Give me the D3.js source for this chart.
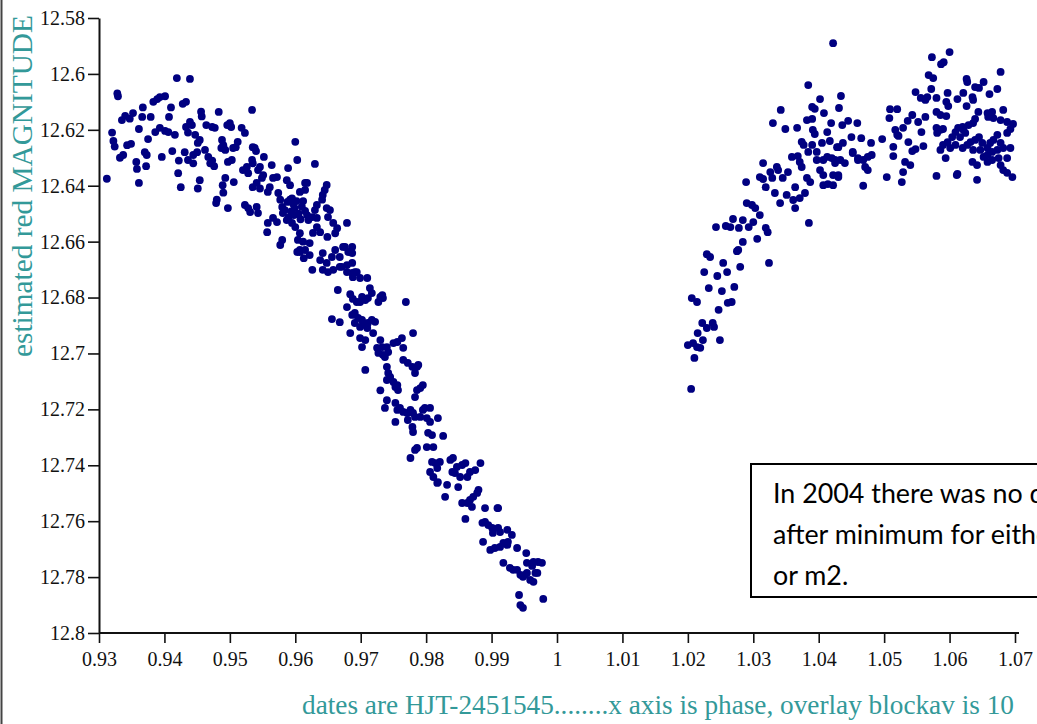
<!DOCTYPE html>
<html><head><meta charset="utf-8">
<script src="https://cdn.jsdelivr.net/npm/d3@7"></script>
<style>body{margin:0;background:#fff;overflow:hidden} svg{display:block}</style>
</head><body><svg id="c" width="1037" height="724"></svg>
<script>
const xTicks = [0.93,0.94,0.95,0.96,0.97,0.98,0.99,1.00,1.01,1.02,1.03,1.04,1.05,1.06,1.07];
const yTicks = [12.58,12.60,12.62,12.64,12.66,12.68,12.70,12.72,12.74,12.76,12.78,12.80];
const xTitle = "dates are HJT-2451545........x axis is phase, overlay blockav is 10";
const yTitle = "estimated red MAGNITUDE";
const noteLines = ["In 2004 there was no data", "after minimum for either m1", "or m2."];

// [phase, magnitude] before minimum
const preMinimum = [
[0.9312,12.6375],[0.9328,12.607],[0.9329,12.608],[0.9320,12.621],[0.9322,12.624],[0.9324,12.626],[0.9335,12.6165],[0.9340,12.615],[0.9347,12.616],[0.9352,12.614],[0.9332,12.630],[0.9337,12.629],[0.9343,12.6255],[0.9349,12.625],[0.9357,12.6315],[0.9358,12.634],[0.9361,12.639],[0.9361,12.6197],[0.9366,12.6154],[0.9367,12.612],[0.9370,12.628],[0.9373,12.629],[0.9372,12.633],[0.9375,12.6233],[0.9379,12.6154],[0.9383,12.610],[0.9389,12.609],[0.9393,12.6083],[0.9401,12.608],[0.9386,12.6208],[0.9393,12.6193],[0.9401,12.6204],[0.9406,12.6208],[0.9416,12.6218],[0.9396,12.6297],[0.9407,12.6154],[0.9410,12.612],[0.9412,12.6276],[0.9419,12.6015],[0.9421,12.6355],[0.9425,12.6405],[0.9422,12.631],[0.9428,12.6107],[0.9433,12.610],[0.9433,12.619],[0.9436,12.621],[0.9439,12.6172],[0.9442,12.6183],[0.9439,12.6018],[0.9431,12.628],[0.9436,12.6308],[0.9444,12.632],[0.9444,12.629],[0.9450,12.628],[0.9447,12.6218],[0.9451,12.6247],[0.9454,12.6236],[0.9454,12.638],[0.9451,12.641],[0.9456,12.6135],[0.9457,12.6152],[0.9462,12.6272],[0.9464,12.6183],[0.9473,12.619],[0.9477,12.6193],[0.9467,12.6297],[0.9470,12.632],[0.9473,12.631],[0.9476,12.633],[0.9480,12.645],[0.9479,12.6462],[0.9483,12.6136],[0.9488,12.6236],[0.9490,12.6255],[0.9487,12.6265],[0.9493,12.6272],[0.9489,12.6398],[0.9490,12.6425],[0.9493,12.6372],[0.9496,12.6183],[0.9500,12.6176],[0.9502,12.619],[0.9497,12.6315],[0.9503,12.6308],[0.9497,12.648],[0.9505,12.6265],[0.9509,12.6262],[0.9512,12.6243],[0.9506,12.6387],[0.9518,12.6193],[0.9523,12.6211],[0.9520,12.6344],[0.9526,12.6333],[0.9528,12.6355],[0.9523,12.6469],[0.9528,12.648],[0.9531,12.6494],[0.9534,12.6129],[0.9535,12.6262],[0.9538,12.6265],[0.9540,12.6276],[0.9534,12.6308],[0.9535,12.632],[0.9543,12.6344],[0.9546,12.6333],[0.9535,12.6405],[0.9541,12.639],[0.9546,12.641],[0.9543,12.6498],[0.9541,12.6476],[0.9549,12.6372],[0.9551,12.6362],[0.9552,12.6297],[0.9557,12.6566],[0.9558,12.6533],[0.9566,12.6515],[0.9572,12.653],[0.9558,12.6422],[0.9561,12.6405],[0.9564,12.6326],[0.9566,12.6372],[0.9572,12.6369],[0.9577,12.6612],[0.9580,12.6594],[0.9574,12.6426],[0.9577,12.645],[0.9580,12.6476],[0.9581,12.6498],[0.9584,12.6487],[0.9587,12.6523],[0.9590,12.6512],[0.9595,12.6533],[0.9600,12.6548],[0.9587,12.638],[0.9592,12.6398],[0.9600,12.6243],[0.9603,12.6308],[0.9589,12.6337],[0.9607,12.657],[0.9612,12.660],[0.9607,12.6637],[0.9615,12.663],[0.9607,12.6422],[0.9615,12.6415],[0.9618,12.639],
[0.9592,12.645],[0.9597,12.6465],[0.9595,12.6445],[0.9599,12.648],[0.9602,12.6455],[0.9605,12.650],[0.9598,12.6505],[0.9610,12.6475],[0.9612,12.6455],[0.9588,12.6458],[0.9594,12.6492],[0.9608,12.652],[0.9615,12.649],[0.9618,12.6505],
[0.9630,12.6322],[0.9648,12.6397],[0.9645,12.6415],[0.9642,12.6433],[0.9641,12.645],[0.9633,12.6469],[0.9630,12.6487],[0.9626,12.6512],[0.9620,12.6523],[0.9633,12.6515],[0.9648,12.648],[0.9653,12.6487],[0.9650,12.6512],[0.9633,12.6548],[0.9638,12.6566],[0.9658,12.6533],[0.9664,12.6552],[0.9661,12.657],[0.9679,12.6533],[0.9676,12.6619],[0.9687,12.6619],[0.9681,12.6637],[0.9661,12.663],[0.9656,12.6655],[0.9668,12.6655],[0.9642,12.6641],[0.9638,12.6666],[0.9648,12.6676],[0.9642,12.6701],[0.9650,12.6709],[0.9658,12.6701],[0.9626,12.6701],[0.9668,12.669],[0.9679,12.6684],[0.9687,12.6676],[0.9691,12.6709],[0.9688,12.6727],[0.9604,12.6594],[0.9603,12.6637],[0.9607,12.663],[0.9613,12.6659],[0.9622,12.6605],[0.9622,12.6648],[0.9615,12.639],[0.9649,12.6583],[0.9627,12.6569],
[0.9673,12.6619],[0.9687,12.6641],[0.9671,12.669],[0.9679,12.6709],[0.9687,12.6712],[0.9694,12.6709],[0.9699,12.673],[0.9710,12.673],[0.9665,12.6773],[0.9684,12.6788],[0.9688,12.6805],[0.9694,12.6816],[0.9714,12.6766],[0.9717,12.6784],[0.9711,12.6802],[0.9707,12.6809],[0.9702,12.6798],[0.9699,12.6816],[0.9730,12.6798],[0.9727,12.6816],[0.9733,12.6791],[0.9734,12.6802],[0.9679,12.6834],[0.9769,12.6816],[0.9656,12.6877],[0.9668,12.6888],
[0.9687,12.6862],[0.9691,12.6855],[0.9696,12.6873],[0.9691,12.6891],[0.9702,12.688],[0.9704,12.6898],[0.9711,12.6891],[0.9717,12.688],[0.9722,12.6887],[0.9710,12.6909],[0.9699,12.6905],
[0.9684,12.6927],[0.9699,12.6945],[0.9707,12.6952],[0.9702,12.6977],[0.9719,12.6927],
[0.9730,12.6952],[0.9733,12.6977],[0.9725,12.698],[0.9727,12.6998],[0.9734,12.7005],[0.9740,12.6977],[0.9742,12.6995],[0.9737,12.7013],
[0.9750,12.6963],[0.9756,12.6959],[0.9763,12.6945],[0.9765,12.698],[0.9780,12.6927],[0.9707,12.7059],
[0.9740,12.7048],[0.9742,12.707],[0.9740,12.7095],[0.9745,12.7084],[0.9750,12.7102],[0.9756,12.7113],[0.9757,12.7131],[0.9753,12.712],
[0.9765,12.7023],[0.9772,12.7034],[0.9779,12.7048],[0.9786,12.7048],[0.9783,12.707],[0.9788,12.7041],
[0.9795,12.7113],[0.9791,12.7124],[0.9786,12.7131],[0.9783,12.7156],[0.9730,12.7132],[0.9740,12.7167],[0.9737,12.7195],
[0.9753,12.7177],[0.9756,12.7202],[0.9760,12.7195],[0.9765,12.7209],[0.9771,12.7213],[0.9776,12.7202],[0.9780,12.7213],[0.9783,12.7227],[0.9772,12.7238],[0.9779,12.7263],[0.9780,12.7281],[0.9791,12.7227],[0.9795,12.7202],[0.9798,12.7195],[0.9806,12.7195],[0.9801,12.7231],[0.9753,12.7245],
[0.9818,12.7231],[0.9806,12.7245],[0.9803,12.7284],[0.9809,12.7292],[0.9801,12.7335],[0.9786,12.7338],[0.9783,12.7345],[0.9776,12.7374],[0.9811,12.7335],[0.9826,12.7295],
[0.9809,12.7388],[0.9814,12.7392],[0.9821,12.7388],[0.9817,12.741],[0.9806,12.7424],[0.9811,12.7442],[0.9817,12.7463],[0.9818,12.746],
[0.9829,12.7513],[0.9832,12.747],
[0.9837,12.7381],[0.9841,12.7374],[0.9847,12.7406],[0.9855,12.7399],[0.9840,12.7424],[0.9844,12.7428],[0.9852,12.7442],[0.9860,12.7392],[0.9863,12.7442],[0.9867,12.7424],[0.9875,12.7417],[0.9883,12.7392],[0.9849,12.7478],
[0.9878,12.7499],[0.9880,12.7488],[0.9872,12.7513],[0.9867,12.7524],[0.9863,12.7535],[0.9855,12.7535],[0.9870,12.7549],
[0.9860,12.7592],[0.9890,12.7553],[0.9909,12.7553],[0.9910,12.7553],
[0.9886,12.7606],[0.9890,12.7603],[0.9895,12.7614],[0.9901,12.7624],[0.9902,12.7642],[0.9887,12.7674],[0.9898,12.7703],[0.9905,12.7696],[0.9913,12.7692],[0.9918,12.7678],[0.9924,12.7685],[0.9925,12.7674],[0.9931,12.7649],[0.9924,12.7631],[0.9913,12.7639],[0.9910,12.7624],
[0.9939,12.7696],[0.9953,12.7714],
[0.9918,12.7749],[0.9928,12.7767],[0.9933,12.7774],[0.9939,12.7774],[0.9944,12.7792],[0.9948,12.7799],[0.9954,12.7785],[0.9959,12.781],[0.9954,12.7749],[0.9964,12.7746],[0.9970,12.7785],
[0.9942,12.7864],[0.9944,12.790],[0.9948,12.791],
[0.9979,12.7878],[0.9962,12.776],[0.9971,12.7746],[0.9977,12.7749],[0.9967,12.7785],[0.9964,12.7817],[0.9951,12.7792]
];

// [phase, magnitude] after minimum
const postMinimum = [
[1.0205,12.7127],[1.0210,12.7016],[1.0200,12.697],[1.0208,12.6963],[1.0214,12.6977],[1.0219,12.698],[1.0223,12.6952],[1.0249,12.6952],[1.0215,12.6927],[1.0222,12.6891],[1.0229,12.6909],[1.0238,12.6891],[1.0240,12.6905],[1.0247,12.6844],[1.0206,12.6802],[1.0214,12.6816],[1.0232,12.6766],[1.0252,12.6777],[1.0271,12.6762],[1.0261,12.6819],[1.0267,12.6816],[1.0225,12.6709],[1.0245,12.6723],[1.0260,12.6709],[1.0280,12.669],[1.0229,12.6645],[1.0234,12.6655],[1.0254,12.6676],[1.0275,12.6634],[1.0277,12.663],[1.0284,12.6601],[1.0306,12.659],[1.0324,12.6676],[1.0243,12.6548],[1.0258,12.6544],[1.0265,12.6548],[1.0278,12.6551],[1.0284,12.6523],[1.0269,12.6519],[1.0293,12.6548],[1.0300,12.653],[1.0319,12.6551],[1.0322,12.6566],[1.0290,12.6462],[1.0298,12.6469],[1.0303,12.648],[1.0310,12.6505],[1.0319,12.6405],[1.0333,12.6426],[1.0341,12.6462],[1.0351,12.6433],[1.0361,12.6451],[1.0364,12.648],[1.0371,12.6444],[1.0379,12.6426],[1.0364,12.6405],[1.0385,12.6533],[1.0289,12.6387],
[1.0384,12.604],[1.0402,12.609],[1.0434,12.6079],[1.0431,12.6122],[1.0390,12.6118],[1.0394,12.6125],[1.0408,12.614],[1.0342,12.6129],[1.0330,12.6176],[1.0349,12.6197],[1.0367,12.6193],[1.0382,12.6165],[1.0390,12.6161],[1.0391,12.620],[1.0394,12.6215],[1.0413,12.6208],[1.0419,12.6176],[1.0436,12.6183],[1.0445,12.6168],[1.0459,12.6176],[1.0374,12.6243],[1.0377,12.6254],[1.0390,12.6254],[1.0384,12.6279],[1.0405,12.6247],[1.0417,12.624],[1.0430,12.6262],[1.0437,12.6247],[1.0450,12.6226],[1.0359,12.6297],[1.0368,12.6294],[1.0371,12.6315],[1.0374,12.6333],[1.0397,12.6279],[1.0397,12.6308],[1.0407,12.6308],[1.0413,12.6297],[1.0420,12.6301],[1.0425,12.6308],[1.0433,12.6308],[1.0440,12.6319],[1.0452,12.6283],[1.0460,12.6308],[1.0402,12.6344],[1.0407,12.6362],[1.0315,12.6319],[1.0326,12.6351],[1.0336,12.6333],[1.0338,12.6344],[1.0353,12.6351],[1.0310,12.6369],[1.0315,12.6376],[1.0329,12.6372],[1.0345,12.6372],[1.0382,12.6372],[1.0387,12.6387],[1.0407,12.6398],[1.0414,12.6394],[1.0422,12.6398],[1.0430,12.6369],
[1.0422,12.589],[1.0465,12.623],[1.0480,12.6247],[1.0428,12.6262],[1.0452,12.6279],[1.0460,12.6301],[1.0468,12.6308],[1.0475,12.6297],[1.0481,12.629],[1.0471,12.6333],[1.0475,12.6344],[1.0468,12.640],[1.0425,12.6319],[1.0422,12.6362],[1.0430,12.6362],[1.0497,12.6233],
[1.0509,12.6126],[1.0520,12.6126],[1.0508,12.6158],[1.0517,12.620],[1.0520,12.6218],[1.0514,12.6261],[1.0514,12.6294],[1.0504,12.6369],[1.0527,12.6387],[1.0529,12.6351],[1.0529,12.6193],[1.0522,12.6222],[1.0611,12.6362],
[1.0573,12.594],[1.0587,12.5965],[1.0591,12.5958],[1.0600,12.5922],
[1.0568,12.6004],[1.0575,12.6015],[1.0572,12.6054],[1.0548,12.6065],[1.0556,12.6086],[1.0563,12.6093],[1.0566,12.6083],[1.0580,12.6086],[1.0597,12.6068],[1.0595,12.610],[1.0598,12.6115],[1.0612,12.609],[1.0621,12.6068],[1.0627,12.6029],[1.0626,12.6018],[1.0639,12.6047],[1.0645,12.605],[1.0652,12.6029],[1.0661,12.6072],[1.0673,12.6054],[1.0678,12.5993],[1.0635,12.6083],[1.0636,12.6093],
[1.0536,12.6168],[1.0543,12.6147],[1.0552,12.6172],[1.0563,12.6154],[1.0557,12.6208],[1.0537,12.6244],[1.0548,12.6269],[1.0543,12.6276],[1.0560,12.6258],[1.0540,12.6326],[1.0532,12.6315],
[1.0580,12.6136],[1.0586,12.6147],[1.0595,12.6151],[1.0580,12.6193],[1.0586,12.620],[1.0581,12.6211],[1.0590,12.6197],
[1.0626,12.6115],[1.0644,12.6136],[1.0658,12.614],[1.0665,12.6136],[1.0667,12.6158],[1.0659,12.6154],[1.0682,12.6129],[1.0678,12.6165],[1.0688,12.6172],[1.0697,12.6179],[1.0693,12.6197],[1.0688,12.6211],[1.0639,12.6161],[1.0636,12.6176],[1.0629,12.6183],[1.0620,12.619],[1.0621,12.620],[1.0613,12.6193],[1.0609,12.6208],[1.0624,12.6211],[1.0616,12.6226],[1.0604,12.6226],[1.0597,12.6244],[1.0590,12.6254],[1.0586,12.6272],[1.0594,12.6301],[1.0601,12.6265],[1.0609,12.6254],[1.0620,12.6265],[1.0627,12.6254],[1.0632,12.6244],[1.0639,12.6236],[1.0645,12.6226],[1.0650,12.6247],[1.0658,12.6265],[1.0662,12.6247],[1.0667,12.6236],[1.0673,12.6218],[1.0678,12.6247],[1.0673,12.6272],[1.0682,12.6265],[1.0693,12.6265],[1.0665,12.6279],[1.0658,12.629],[1.0652,12.6297],[1.0647,12.6272],[1.0636,12.6272],[1.0635,12.6315],[1.0642,12.6326],[1.0658,12.6315],[1.0665,12.6308],[1.0675,12.6301],[1.0678,12.6326],[1.0688,12.6301],[1.0682,12.6344],[1.0688,12.6354],[1.0696,12.6369],[1.0642,12.6379],[1.0612,12.6358],[1.0580,12.6365]
];

const W = 1037, H = 724;
const svg = d3.select("#c");
svg.append("rect").attr("width", W).attr("height", H).attr("fill", "#fff");
svg.append("line").attr("x1", 1.5).attr("x2", 1.5).attr("y1", 0).attr("y2", H)
  .attr("stroke", "#444").attr("stroke-width", 2);

const x = d3.scaleLinear().domain([0.93, 1.07]).range([99, 1015]);
const y = d3.scaleLinear().domain([12.58, 12.80]).range([18, 633]);
const fmt = v => String(+v.toFixed(2));
const serif = "'Liberation Serif','Times New Roman',serif";

const gx = svg.append("g").attr("transform", "translate(0,633)")
  .call(d3.axisBottom(x).tickValues(xTicks).tickFormat(fmt).tickSize(10).tickSizeOuter(0).tickPadding(9));
const gy = svg.append("g").attr("transform", "translate(99,0)")
  .call(d3.axisLeft(y).tickValues(yTicks).tickFormat(fmt).tickSize(11).tickSizeOuter(0).tickPadding(3));
[gx, gy].forEach(g => {
  g.selectAll("path.domain").attr("stroke", "#111").attr("stroke-width", 2);
  g.selectAll(".tick line").attr("stroke", "#111").attr("stroke-width", 1.6);
  g.selectAll(".tick text").attr("font-family", serif).attr("font-size", 20).attr("fill", "#111");
});
gx.selectAll("path.domain").attr("d", `M${x(0.93)},0H${x(1.07) + 4}`);

const dots = svg.append("g").attr("fill", "#000080");
[preMinimum, postMinimum].forEach(series => {
  dots.selectAll(null).data(series).enter().append("circle")
    .attr("cx", d => x(d[0])).attr("cy", d => y(d[1])).attr("r", 3.9);
});

function fit(sel, target) {
  const len = sel.node().getComputedTextLength();
  const fs = parseFloat(sel.attr("font-size"));
  sel.attr("font-size", fs * target / len);
}

const yt = svg.append("text").text(yTitle)
  .attr("font-family", serif).attr("font-size", 28).attr("fill", "#339999")
  .attr("text-anchor", "start")
  .attr("transform", "translate(32,357) rotate(-90)");
fit(yt, 342);

const xt = svg.append("text").text(xTitle)
  .attr("font-family", serif).attr("font-size", 24).attr("fill", "#339999")
  .attr("x", 302).attr("y", 714);
fit(xt, 712);

svg.append("rect").attr("x", 751).attr("y", 464).attr("width", 400).attr("height", 133)
  .attr("fill", "#fff").attr("stroke", "#000").attr("stroke-width", 2);
const noteFont = "Lato,'Open Sans',sans-serif";
const probe1 = svg.append("text").text("In 2004 there was no").attr("font-family", noteFont).attr("font-size", 28);
const probe2 = svg.append("text").text("after minimum for eith").attr("font-family", noteFont).attr("font-size", 28);
const s1 = 28 * 249 / probe1.node().getComputedTextLength();
const s2 = 28 * 264 / probe2.node().getComputedTextLength();
probe1.remove(); probe2.remove();
const noteSize = (s1 + s2) / 2;
svg.append("g").selectAll("text").data(noteLines).enter().append("text")
  .text(d => d).attr("x", 773).attr("y", (d, i) => 503 + i * 41)
  .attr("font-family", noteFont).attr("font-size", noteSize).attr("fill", "#000");
</script></body></html>
